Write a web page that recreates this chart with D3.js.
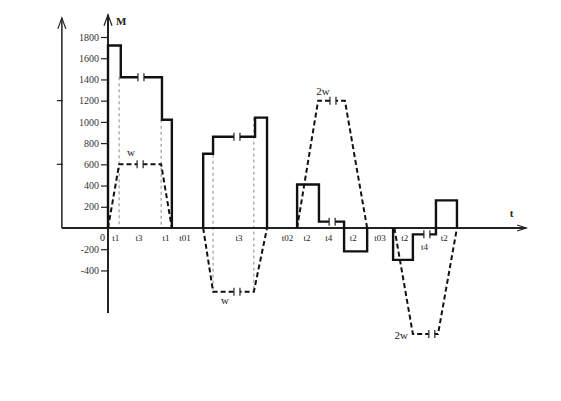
<!DOCTYPE html>
<html>
<head>
<meta charset="utf-8">
<script src="https://cdn.jsdelivr.net/npm/d3@7"></script>
<style>
body { margin: 0; background: #fff; }
text { font-family: "Liberation Serif", "DejaVu Serif", serif; fill: #222; }
</style>
</head>
<body>
<div id="chart"></div>
<script>
var width = 561,
    height = 401;

// torque M, solid steps ([t, M])
var torque1 = [[0,0],[0,1720],[3.1,1720],[3.1,1420],[13.1,1420],[13.1,1020],[15.5,1020],[15.5,0]];
var torque2 = [[23.1,0],[23.1,700],[25.5,700],[25.5,860],[35.7,860],[35.7,1040],[38.6,1040],[38.6,0]];
var torque3 = [[45.9,0],[45.9,410],[51.2,410],[51.2,60],[57.3,60],[57.3,-220],[62.9,-220],[62.9,0]];
var torque4 = [[69.2,0],[69.2,-300],[74.0,-300],[74.0,-60],[79.6,-60],[79.6,260],[84.7,260],[84.7,0]];

// speed w, dashed trapezoids
var speed1 = [[0,0],[2.7,600],[12.9,600],[15.5,0]];
var speed2 = [[23.1,0],[25.5,-600],[35.4,-600],[38.6,0]];
var speed3 = [[45.9,0],[51.0,1200],[57.5,1200],[62.9,0]];
var speed4 = [[69.5,0],[74.0,-1000],[80.1,-1000],[84.7,0]];

// thin grey guides [t, from, to]
var guides = [[2.7,1420,0],[12.9,1020,0],[25.5,860,-600],[35.4,1040,-600]];

// "||" break marks [t, M]
var breaks = [[8.0,1420],[7.8,600],[31.3,860],[31.3,-600],[54.4,60],[54.6,1200],[77.4,-60],[78.6,-1000]];

var yTicks = [1800,1600,1400,1200,1000,800,600,400,200,-200,-400];
var leftTicks = [1200,600];

// time labels [label, t, row]
var tLabels = [["t1",1.9,0],["t3",7.5,0],["t1",14.1,0],["t01",18.7,0],["t3",31.8,0],["t02",43.6,0],
  ["t2",48.3,0],["t4",53.6,0],["t2",59.5,0],["t03",66.0,0],["t2",72.0,0],["t4",76.8,1],["t2",81.6,0]];

var wLabels = [["w",5.6,680],["w",28.4,-720],["2w",52.2,1250],["2w",71.2,-1050]];

var x = d3.scaleLinear().domain([0, 100]).range([108, 520]);
var y = d3.scaleLinear().domain([0, 1800]).range([228, 37]);

var svg = d3.select("#chart").append("svg")
  .attr("width", width)
  .attr("height", height);

var line = d3.line()
  .x(function(d) { return x(d[0]); })
  .y(function(d) { return y(d[1]); });

// grey guides
svg.selectAll(".guide")
  .data(guides)
  .enter().append("line")
  .attr("x1", function(d) { return x(d[0]); })
  .attr("x2", function(d) { return x(d[0]); })
  .attr("y1", function(d) { return y(d[1]); })
  .attr("y2", function(d) { return y(d[2]); })
  .style("stroke", "#888")
  .style("stroke-width", 1)
  .style("stroke-dasharray", "3,3");

// axes
var axisX0 = -11.2;
svg.append("line")
  .attr("x1", x(axisX0)).attr("x2", x(101.5))
  .attr("y1", y(0)).attr("y2", y(0))
  .style("stroke", "#222").style("stroke-width", 2);

svg.append("path")
  .attr("d", "M" + (x(101.5) - 9) + "," + (y(0) - 3) + "L" + x(101.5) + "," + y(0) + "L" + (x(101.5) - 9) + "," + (y(0) + 3))
  .style("fill", "none").style("stroke", "#222").style("stroke-width", 1.2);

svg.append("line")
  .attr("x1", x(0)).attr("x2", x(0))
  .attr("y1", y(2010)).attr("y2", y(-800))
  .style("stroke", "#222").style("stroke-width", 2);

svg.append("line")
  .attr("x1", x(axisX0)).attr("x2", x(axisX0))
  .attr("y1", y(1980)).attr("y2", y(0))
  .style("stroke", "#222").style("stroke-width", 1.5);

[[0, 2010], [axisX0, 1980]].forEach(function(a) {
  var ax = x(a[0]), ay = y(a[1]);
  svg.append("path")
    .attr("d", "M" + (ax - 4) + "," + (ay + 11) + "L" + ax + "," + ay + "L" + (ax + 4) + "," + (ay + 11))
    .style("fill", "none").style("stroke", "#222").style("stroke-width", 1.2);
});

svg.selectAll(".ltick")
  .data(leftTicks)
  .enter().append("line")
  .attr("x1", x(axisX0) - 5).attr("x2", x(axisX0) + 1)
  .attr("y1", function(d) { return y(d); })
  .attr("y2", function(d) { return y(d); })
  .style("stroke", "#222").style("stroke-width", 1.2);

var yAxis = svg.append("g")
  .attr("transform", "translate(" + x(0) + ",0)")
  .call(d3.axisLeft(y).tickValues(yTicks).tickSize(7).tickPadding(2)
    .tickFormat(function(d) { return String(d); }));
yAxis.select(".domain").remove();
yAxis.selectAll("line").style("stroke", "#222").style("stroke-width", 1.2);
yAxis.selectAll("text")
  .style("font-family", "Liberation Serif, serif")
  .style("font-size", "10px")
  .style("fill", "#333");

svg.append("text")
  .attr("x", x(0) - 8).attr("y", y(0) + 13)
  .style("font-size", "10px").text("0");

svg.append("text")
  .attr("x", x(0) + 8).attr("y", y(1910))
  .style("font-size", "11px").style("font-weight", "bold").text("M");

svg.append("text")
  .attr("x", x(97.5)).attr("y", y(0) - 11)
  .style("font-size", "11px").style("font-weight", "bold").text("t");

// time labels
svg.selectAll(".tlab")
  .data(tLabels)
  .enter().append("text")
  .attr("x", function(d) { return x(d[1]); })
  .attr("y", function(d) { return y(0) + 13 + d[2] * 9; })
  .attr("text-anchor", "middle")
  .style("font-size", "9px")
  .text(function(d) { return d[0]; });

// speed curves
svg.selectAll(".speed")
  .data([speed1, speed2, speed3, speed4])
  .enter().append("path")
  .attr("d", line)
  .style("fill", "none")
  .style("stroke", "#111")
  .style("stroke-width", 2)
  .style("stroke-dasharray", "5,3");

// torque curves
svg.selectAll(".torque")
  .data([torque1, torque2, torque3, torque4])
  .enter().append("path")
  .attr("d", line)
  .style("fill", "none")
  .style("stroke", "#111")
  .style("stroke-width", 2.4);

// break marks
var br = svg.selectAll(".brk")
  .data(breaks)
  .enter().append("g")
  .attr("transform", function(d) { return "translate(" + x(d[0]) + "," + y(d[1]) + ")"; });
br.append("rect")
  .attr("x", -3).attr("y", -3).attr("width", 6).attr("height", 6)
  .style("fill", "#fff");
br.append("line").attr("x1", -3).attr("x2", -3).attr("y1", -4).attr("y2", 4)
  .style("stroke", "#222").style("stroke-width", 1.2);
br.append("line").attr("x1", 3).attr("x2", 3).attr("y1", -4).attr("y2", 4)
  .style("stroke", "#222").style("stroke-width", 1.2);

// w labels
svg.selectAll(".wlab")
  .data(wLabels)
  .enter().append("text")
  .attr("x", function(d) { return x(d[1]); })
  .attr("y", function(d) { return y(d[2]); })
  .attr("text-anchor", "middle")
  .style("font-size", "11px")
  .text(function(d) { return d[0]; });
</script>
</body>
</html>
